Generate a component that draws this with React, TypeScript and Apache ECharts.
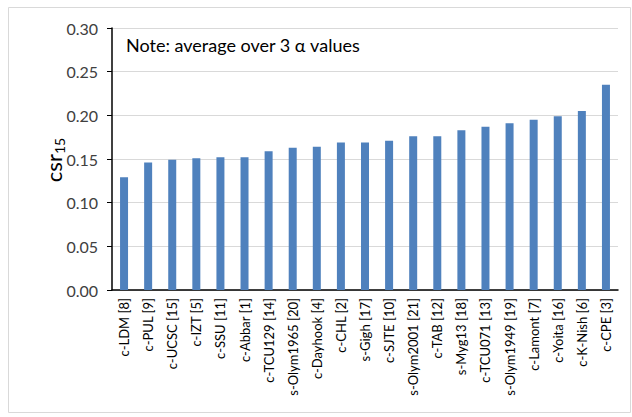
import React, { useEffect, useRef } from "react";
import * as echarts from "echarts";

const categories = [
  "c-LDM [8]", "c-PUL [9]", "c-UCSC [15]", "c-IZT [5]", "c-SSU [11]", "c-Abbar [1]",
  "c-TCU129 [14]", "s-Olym1965 [20]", "c-Dayhook [4]", "c-CHL [2]", "s-Gigh [17]",
  "c-SJTE [10]", "s-Olym2001 [21]", "c-TAB [12]", "s-Myg13 [18]", "c-TCU071 [13]",
  "s-Olym1949 [19]", "c-Lamont [7]", "c-Yoita [16]", "c-K-Nish [6]", "c-CPE [3]",
];
const csr15 = [
  0.129, 0.146, 0.149, 0.151, 0.152, 0.152, 0.159, 0.163, 0.164, 0.169, 0.169,
  0.171, 0.176, 0.176, 0.183, 0.187, 0.191, 0.195, 0.199, 0.205, 0.235,
];
const yTicks = { min: 0, max: 0.3, interval: 0.05 };
const noteText = "Note: average over 3 \u03b1 values";
const yTitleMain = "csr";
const yTitleSub = "15";

const FONT = "Lato, 'Open Sans', sans-serif";

export default function App() {
  const ref = useRef<HTMLDivElement>(null);
  useEffect(() => {
    if (!ref.current) return;
    const chart = echarts.init(ref.current, undefined, { renderer: "svg" });
    chart.setOption({
      animation: false,
      backgroundColor: "#ffffff",
      grid: { left: 112, right: 14, top: 28, bottom: 127 },
      graphic: [
        {
          type: "rect",
          shape: { x: 8.5, y: 7.5, width: 622, height: 405 },
          style: { fill: "none", stroke: "#d9d9d9", lineWidth: 1 },
          silent: true,
        },
        {
          type: "text",
          left: 126,
          top: 36,
          style: { text: noteText, font: `18px ${FONT}`, fill: "#000000" },
        },
        {
          type: "text",
          x: 53,
          y: 160,
          rotation: Math.PI / 2,
          style: {
            text: `{a|${yTitleMain}}{b|${yTitleSub}}`,
            align: "center",
            verticalAlign: "middle",
            rich: {
              a: { fontSize: 22, fontFamily: FONT, fill: "#000000", fontWeight: "normal" },
              b: { fontSize: 14, fontFamily: FONT, fill: "#000000", fontWeight: "normal", padding: [12, 0, 0, 0] },
            },
          },
        },
      ],
      xAxis: {
        type: "category",
        data: categories,
        axisLine: { show: true, lineStyle: { color: "#000000", width: 1.5 } },
        axisTick: { show: false },
        axisLabel: {
          rotate: 90,
          interval: 0,
          margin: 8,
          color: "#000000",
          fontSize: 13,
          fontFamily: FONT,
        },
      },
      yAxis: {
        type: "value",
        min: yTicks.min,
        max: yTicks.max,
        interval: yTicks.interval,
        axisLine: { show: true, lineStyle: { color: "#000000", width: 1.5 } },
        axisTick: { show: true, inside: false, length: 5, lineStyle: { color: "#000000" } },
        splitLine: { show: true, lineStyle: { color: "#d9d9d9", width: 1 } },
        axisLabel: {
          formatter: (v: number) => v.toFixed(2),
          color: "#404040",
          fontSize: 16,
          fontFamily: FONT,
          margin: 14,
        },
      },
      series: [
        {
          type: "bar",
          data: csr15,
          barWidth: 8,
          itemStyle: { color: "#4F81BD" },
        },
      ],
    });
    return () => chart.dispose();
  }, []);
  return <div ref={ref} style={{ width: 632, height: 417, position: "absolute", left: 0, top: 0 }} />;
}
